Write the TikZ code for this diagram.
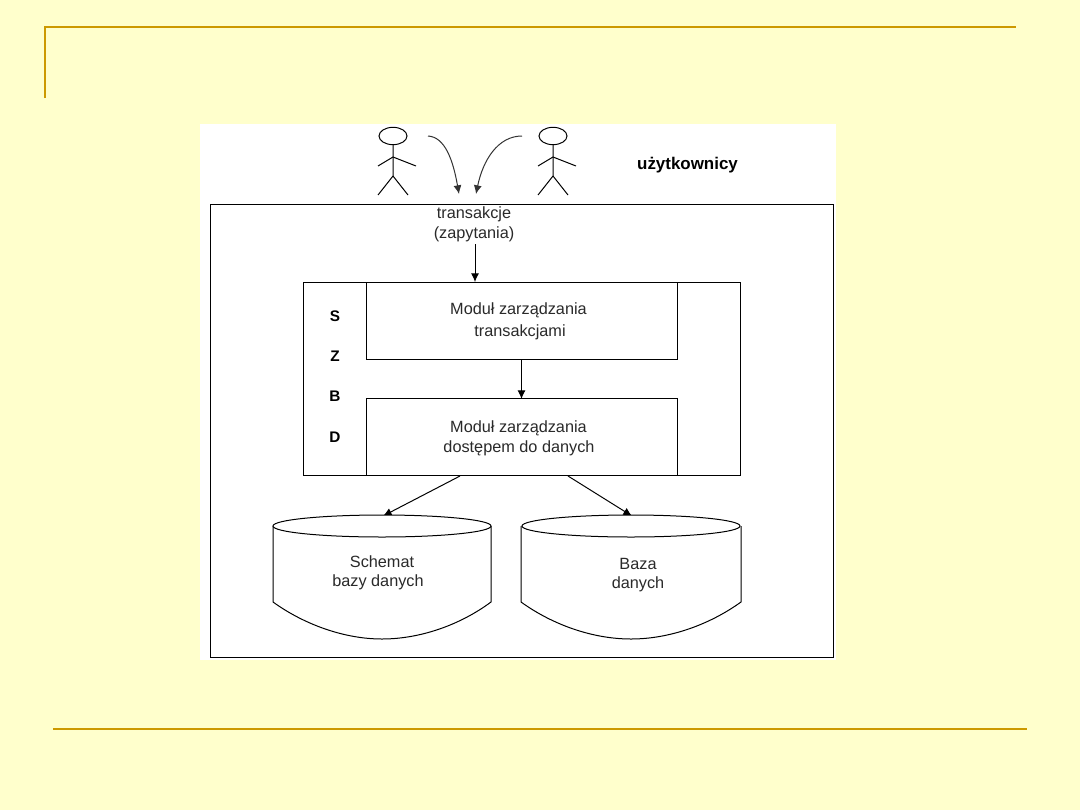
\documentclass[tikz,border=0pt]{standalone}
\usepackage{fontspec}
\setmainfont{Liberation Sans}
\usetikzlibrary{arrows.meta,shapes.geometric}
\definecolor{tlo}{HTML}{FFFFCC}
\definecolor{zloty}{HTML}{CC9900}
\definecolor{tekst}{HTML}{2A2A2A}
\tikzset{
  modul/.style={draw, fill=white, inner sep=0pt, minimum width=233.25pt, minimum height=57.75pt},
  napis/.style={inner sep=0pt, align=center, text=tekst, font=\fontsize{12.2}{15}\selectfont},
  litera/.style={inner sep=0pt, font=\fontsize{11.5}{14}\selectfont\bfseries},
  wieko/.style={ellipse, draw, fill=white, inner sep=0pt, minimum width=163.5pt, minimum height=16.5pt},
  strzalka/.style={-{Latex[length=6.5pt,width=6pt]}, line width=.75pt},
}
\begin{document}
\begin{tikzpicture}[x=.75pt, y=-.75pt, line width=.75pt]
    \useasboundingbox (0,0) rectangle (1080,810);
    \fill[tlo] (0,0) rectangle (1080,810);
    % slide rules
    \draw[zloty, line width=1.5pt] (45,98) -- (45,27) -- (1016,27);
    \draw[zloty, line width=1.5pt] (53,729) -- (1027,729);
    \fill[white] (200,124) rectangle (836,660);
    % outer frame and system box
    \node[draw, inner sep=0pt, minimum width=467.25pt, minimum height=339.75pt] (szbd0) at (521.5,431) {};
    \node[draw, inner sep=0pt, minimum width=327.75pt, minimum height=144.75pt] (szbd) at (522,378.5) {};
    \node[modul] (mt) at (521.5,320.5) {};
    \node[modul] (md) at (521.5,437) {};
    \node[napis] (mt1) at (518.5,310) {Moduł zarządzania};
    \node[napis] (mt2) at (520,332) {transakcjami};
    \node[napis] (md1) at (518.5,428) {Moduł zarządzania};
    \node[napis] (md2) at (519,448) {dostępem do danych};
    \node[litera] (s) at (335,316) {S};
    \node[litera] (z) at (335,356) {Z};
    \node[litera] (b) at (335,396) {B};
    \node[litera] (d) at (335,437) {D};
    % arrows into the stores go under the lids
    \coordinate (w1) at (460,476);
    \coordinate (w2) at (568,476);
    \coordinate (k1) at (383,516);
    \coordinate (k2) at (632,516);
    \draw[strzalka] (w1) -- (k1);
    \draw[strzalka] (w2) -- (k2);
    % the two stores
    \draw (273,526) -- (273,602) .. controls (305,625) and (345,639) .. (382,639) .. controls (420,639) and (460,625) .. (491,602) -- (491,526);
    \draw (521,526) -- (521,602) .. controls (553,625) and (593,639) .. (631,639) .. controls (669,639) and (709,625) .. (741,602) -- (741,526);
    \node[wieko] (sch) at (382,526) {};
    \node[wieko] (baza) at (631,526) {};
    \node[napis] (sch1) at (382,562) {Schemat};
    \node[napis] (sch2) at (378,582) {bazy danych};
    \node[napis] (baza1) at (638,564) {Baza};
    \node[napis] (baza2) at (638,584) {danych};
    % users
    \foreach \x/\n in {393/a, 553/b} {
      \node[ellipse, draw, inner sep=0pt, minimum width=21pt, minimum height=13pt] (glowa\n) at (\x,136) {};
      \coordinate (biodra\n) at (\x,176);
      \coordinate (ramiona\n) at (\x,157);
      \draw (glowa\n) -- (biodra\n) -- (\x-15,195);
      \draw (biodra\n) -- (\x+15,195);
      \draw (\x-15,166) -- (ramiona\n) -- (\x+23,166);
    }
    \node[inner sep=0pt, font=\fontsize{12.7}{15}\selectfont\bfseries] (uzyt) at (687.5,165) {użytkownicy};
    \node[napis] (tr) at (474,214) {transakcje};
    \node[napis] (zap) at (474,234) {(zapytania)};
    % connectors
    \coordinate (u1) at (428,136);
    \coordinate (u2) at (522,136);
    \coordinate (t1) at (459,194);
    \coordinate (t2) at (476,194);
    \coordinate (wej) at (475,244);
    \coordinate (wyj) at (475,282);
    \coordinate (m1) at (521.5,359);
    \coordinate (m2) at (521.5,399);
    \draw[strzalka, black!80] (u1) .. controls (445,137) and (453,160) .. (t1);
    \draw[strzalka, black!80] (u2) .. controls (498,136) and (483,160) .. (t2);
    \draw[strzalka] (wej) -- (wyj);
    \draw[strzalka] (m1) -- (m2);
  \end{tikzpicture}
\end{document}
